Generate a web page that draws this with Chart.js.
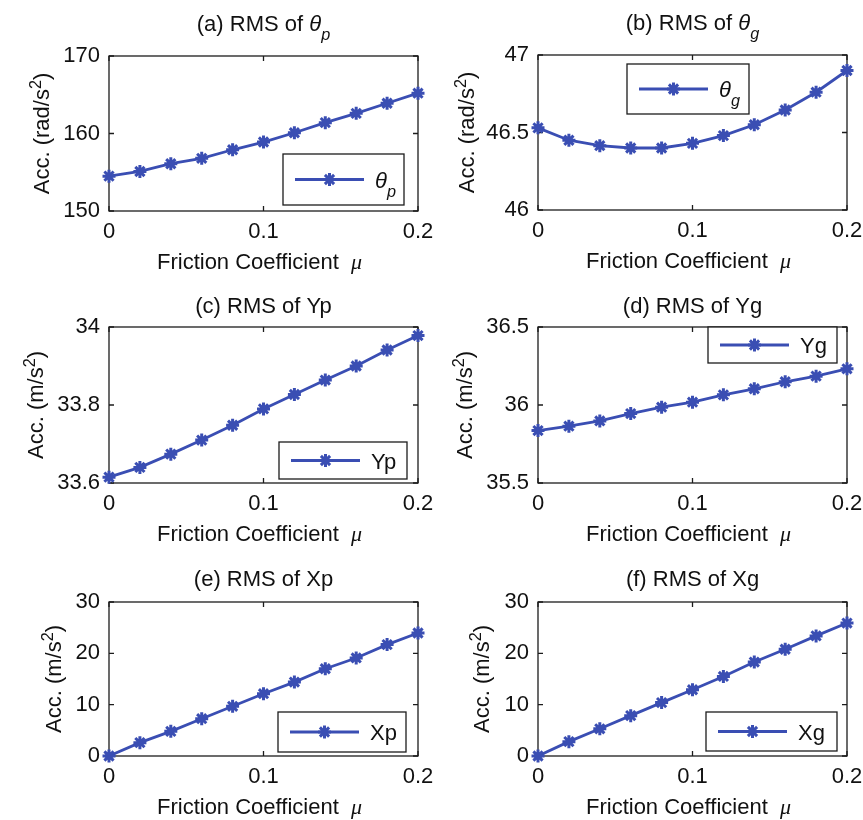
<!DOCTYPE html>
<html>
<head>
<meta charset="utf-8">
<script src="https://cdn.jsdelivr.net/npm/chart.js@4.4.0/dist/chart.umd.min.js"></script>
<style>
html,body{margin:0;padding:0;background:#fff;width:863px;height:820px;overflow:hidden;}
canvas{position:absolute;}
</style>
</head>
<body>
<canvas id="pa"></canvas>
<canvas id="pb"></canvas>
<canvas id="pc"></canvas>
<canvas id="pd"></canvas>
<canvas id="pe"></canvas>
<canvas id="pf"></canvas>
<script>
// ---------- data ----------
const mu = [0, 0.02, 0.04, 0.06, 0.08, 0.1, 0.12, 0.14, 0.16, 0.18, 0.2];
const xTicks = [0, 0.1, 0.2];
const xTickLabels = ['0', '0.1', '0.2'];

const rmsThetaP = [154.5, 155.1, 156.1, 156.8, 157.9, 158.9, 160.1, 161.4, 162.6, 163.9, 165.2];
const rmsThetaG = [46.53, 46.45, 46.415, 46.40, 46.40, 46.43, 46.48, 46.55, 46.645, 46.76, 46.90];
const rmsYp = [33.615, 33.64, 33.674, 33.71, 33.748, 33.79, 33.827, 33.864, 33.90, 33.941, 33.978];
const rmsYg = [35.836, 35.864, 35.898, 35.945, 35.986, 36.018, 36.065, 36.104, 36.149, 36.185, 36.232];
const rmsXp = [0, 2.6, 4.8, 7.27, 9.68, 12.14, 14.4, 17.0, 19.1, 21.7, 23.96];
const rmsXg = [0, 2.8, 5.3, 7.86, 10.4, 12.9, 15.5, 18.3, 20.8, 23.4, 25.9];

const yTicksA = [150, 160, 170];      const yTickLabelsA = ['150', '160', '170'];
const yTicksB = [46, 46.5, 47];       const yTickLabelsB = ['46', '46.5', '47'];
const yTicksC = [33.6, 33.8, 34];     const yTickLabelsC = ['33.6', '33.8', '34'];
const yTicksD = [35.5, 36, 36.5];     const yTickLabelsD = ['35.5', '36', '36.5'];
const yTicksE = [0, 10, 20, 30];      const yTickLabelsE = ['0', '10', '20', '30'];
const yTicksF = [0, 10, 20, 30];      const yTickLabelsF = ['0', '10', '20', '30'];

const panelTitles = ['(a) RMS of ', '(b) RMS of ', '(c) RMS of Yp', '(d) RMS of Yg', '(e) RMS of Xp', '(f) RMS of Xg'];
const xAxisTitle = 'Friction Coefficient  ';
const xAxisSymbol = 'μ';
const yAxisUnits = ['rad/s', 'rad/s', 'm/s', 'm/s', 'm/s', 'm/s'];

// ---------- styles ----------
const BLUE = '#3a4eb3';
const INK = '#111111';
const FONT = '"Liberation Sans", Arial, sans-serif';
const SERIF = '"Liberation Serif", "Times New Roman", serif';
const FS = 22;

function setFont(ctx, size, italic, serif) {
  ctx.font = (italic ? 'italic ' : '') + size + 'px ' + (serif ? SERIF : FONT);
}
function segSize(s) { return (s.sub || s.sup) ? FS * 0.74 : FS; }
function richWidth(ctx, segs) {
  let w = 0;
  for (const s of segs) { setFont(ctx, segSize(s), s.it, s.serif); w += ctx.measureText(s.t).width; }
  return w;
}
function drawRich(ctx, segs, x, y, align) {
  const w = richWidth(ctx, segs);
  let cx = align === 'center' ? x - w / 2 : x;
  ctx.textAlign = 'left';
  ctx.textBaseline = 'alphabetic';
  ctx.fillStyle = INK;
  for (const s of segs) {
    setFont(ctx, segSize(s), s.it, s.serif);
    const dy = s.sub ? FS * 0.42 : (s.sup ? -FS * 0.38 : 0);
    ctx.fillText(s.t, cx, y + dy);
    cx += ctx.measureText(s.t).width;
  }
}
function drawStar(ctx, x, y, r) {
  ctx.beginPath();
  for (let k = 0; k < 4; k++) {
    const a = k * Math.PI / 4;
    ctx.moveTo(x - Math.cos(a) * r, y - Math.sin(a) * r);
    ctx.lineTo(x + Math.cos(a) * r, y + Math.sin(a) * r);
  }
  ctx.stroke();
}

// ---------- panel layout ----------
const panels = [
  { id: 'pa', series: rmsThetaP, yt: yTicksA, yl: yTickLabelsA,
    title: [{t: panelTitles[0]}, {t: 'θ', it: 1}, {t: 'p', it: 1, sub: 1}],
    leg: [{t: 'θ', it: 1}, {t: 'p', it: 1, sub: 1}], unit: yAxisUnits[0],
    cv: [0, 0, 445, 275], ca: [109, 56, 418, 211], titleOff: 25, yOff: 60,
    lg: [174, 98, 121, 51] },
  { id: 'pb', series: rmsThetaG, yt: yTicksB, yl: yTickLabelsB,
    title: [{t: panelTitles[1]}, {t: 'θ', it: 1}, {t: 'g', it: 1, sub: 1}],
    leg: [{t: 'θ', it: 1}, {t: 'g', it: 1, sub: 1}], unit: yAxisUnits[1],
    cv: [430, 0, 433, 275], ca: [538, 55, 847, 210], titleOff: 25, yOff: 64,
    lg: [89, 9, 122, 50] },
  { id: 'pc', series: rmsYp, yt: yTicksC, yl: yTickLabelsC,
    title: [{t: panelTitles[2]}], leg: [{t: 'Yp'}], unit: yAxisUnits[2],
    cv: [0, 275, 445, 273], ca: [109, 327, 418, 483], titleOff: 14, yOff: 66,
    lg: [170, 115, 128, 37] },
  { id: 'pd', series: rmsYg, yt: yTicksD, yl: yTickLabelsD,
    title: [{t: panelTitles[3]}], leg: [{t: 'Yg'}], unit: yAxisUnits[3],
    cv: [430, 275, 433, 273], ca: [538, 327, 847, 483], titleOff: 14, yOff: 66,
    lg: [170, 0, 129, 36] },
  { id: 'pe', series: rmsXp, yt: yTicksE, yl: yTickLabelsE,
    title: [{t: panelTitles[4]}], leg: [{t: 'Xp'}], unit: yAxisUnits[4],
    cv: [0, 548, 445, 272], ca: [109, 602, 418, 756], titleOff: 16, yOff: 48,
    lg: [169, 110, 128, 40] },
  { id: 'pf', series: rmsXg, yt: yTicksF, yl: yTickLabelsF,
    title: [{t: panelTitles[5]}], leg: [{t: 'Xg'}], unit: yAxisUnits[5],
    cv: [430, 548, 433, 272], ca: [538, 602, 847, 756], titleOff: 16, yOff: 49,
    lg: [168, 110, 131, 39] }
];
const panelById = {};
panels.forEach(p => panelById[p.id] = p);

const matlabAxes = {
  id: 'matlabAxes',
  beforeDatasetsDraw(chart) {
    const {ctx, chartArea: a, scales: {x, y}} = chart;
    ctx.save();
    ctx.strokeStyle = '#1c1c1c';
    ctx.lineWidth = 1.3;
    ctx.strokeRect(a.left, a.top, a.right - a.left, a.bottom - a.top);
    ctx.beginPath();
    x.ticks.forEach(t => {
      const px = x.getPixelForValue(t.value);
      ctx.moveTo(px, a.bottom); ctx.lineTo(px, a.bottom - 5);
      ctx.moveTo(px, a.top); ctx.lineTo(px, a.top + 5);
    });
    y.ticks.forEach(t => {
      const py = y.getPixelForValue(t.value);
      ctx.moveTo(a.left, py); ctx.lineTo(a.left + 5, py);
      ctx.moveTo(a.right, py); ctx.lineTo(a.right - 5, py);
    });
    ctx.stroke();
    ctx.restore();
  },
  afterDatasetsDraw(chart) {
    const p = panelById[chart.canvas.id];
    const {ctx, chartArea: a} = chart;
    const lx = a.left + p.lg[0], ly = a.top + p.lg[1], lw = p.lg[2], lh = p.lg[3];
    ctx.save();
    ctx.fillStyle = '#ffffff';
    ctx.fillRect(lx, ly, lw, lh);
    ctx.strokeStyle = '#1c1c1c';
    ctx.lineWidth = 1.3;
    ctx.strokeRect(lx, ly, lw, lh);
    const cy = ly + lh / 2;
    ctx.strokeStyle = BLUE;
    ctx.lineWidth = 3;
    ctx.beginPath();
    ctx.moveTo(lx + 12, cy); ctx.lineTo(lx + 81, cy);
    ctx.stroke();
    ctx.lineWidth = 3;
    drawStar(ctx, lx + 46.5, cy, 6.5);
    drawRich(ctx, p.leg, lx + 92, cy + 8, 'left');
    ctx.restore();
  },
  afterDraw(chart) {
    const p = panelById[chart.canvas.id];
    const {ctx, chartArea: a} = chart;
    const mid = (a.left + a.right) / 2;
    ctx.save();
    // panel title
    drawRich(ctx, p.title, mid, a.top - p.titleOff, 'center');
    // x-axis title
    drawRich(ctx, [{t: xAxisTitle}, {t: xAxisSymbol, it: 1, serif: 1}], mid - 4, a.bottom + 58, 'center');
    // y-axis title (rotated)
    ctx.translate(a.left - p.yOff, (a.top + a.bottom) / 2);
    ctx.rotate(-Math.PI / 2);
    drawRich(ctx, [{t: 'Acc. (' + p.unit}, {t: '2', sup: 1}, {t: ')'}], 0, 0, 'center');
    ctx.restore();
  }
};

panels.forEach(p => {
  const cv = document.getElementById(p.id);
  const [cx, cy, cw, ch] = p.cv;
  const [L, T, R, B] = p.ca;
  cv.width = cw; cv.height = ch;
  cv.style.left = cx + 'px'; cv.style.top = cy + 'px';
  cv.style.width = cw + 'px'; cv.style.height = ch + 'px';
  new Chart(cv, {
    type: 'line',
    data: {
      datasets: [{
        label: p.leg.map(s => s.t).join(''),
        data: mu.map((m, i) => ({x: m, y: p.series[i]})),
        borderColor: BLUE,
        backgroundColor: BLUE,
        borderWidth: 2.8,
        pointStyle: 'star',
        pointRadius: 6.5,
        pointBorderWidth: 3,
        pointBorderColor: BLUE,
        pointBackgroundColor: BLUE,
        tension: 0,
        clip: false
      }]
    },
    options: {
      responsive: false,
      animation: false,
      devicePixelRatio: 1,
      events: [],
      layout: { autoPadding: false, padding: { left: 0, top: T - cy, right: cx + cw - R, bottom: 0 } },
      plugins: { legend: { display: false }, tooltip: { enabled: false }, title: { display: false } },
      scales: {
        x: {
          type: 'linear', min: xTicks[0], max: xTicks[xTicks.length - 1],
          grid: { display: false, drawTicks: false }, border: { display: false },
          afterBuildTicks: s => { s.ticks = xTicks.map(v => ({value: v})); },
          afterFit: s => { s.height = cy + ch - B; s.paddingLeft = 0; s.paddingRight = 0; },
          ticks: { padding: 8, color: INK, font: { family: FONT, size: FS }, maxRotation: 0, autoSkip: false,
                   callback: (v, i) => xTickLabels[i] }
        },
        y: {
          type: 'linear', min: p.yt[0], max: p.yt[p.yt.length - 1],
          grid: { display: false, drawTicks: false }, border: { display: false },
          afterBuildTicks: s => { s.ticks = p.yt.map(v => ({value: v})); },
          afterFit: s => { s.width = L - cx; s.paddingTop = 0; s.paddingBottom = 0; },
          ticks: { padding: 9, color: INK, font: { family: FONT, size: FS }, autoSkip: false,
                   callback: (v, i) => p.yl[i] }
        }
      }
    },
    plugins: [matlabAxes]
  });
});
</script>
</body>
</html>
